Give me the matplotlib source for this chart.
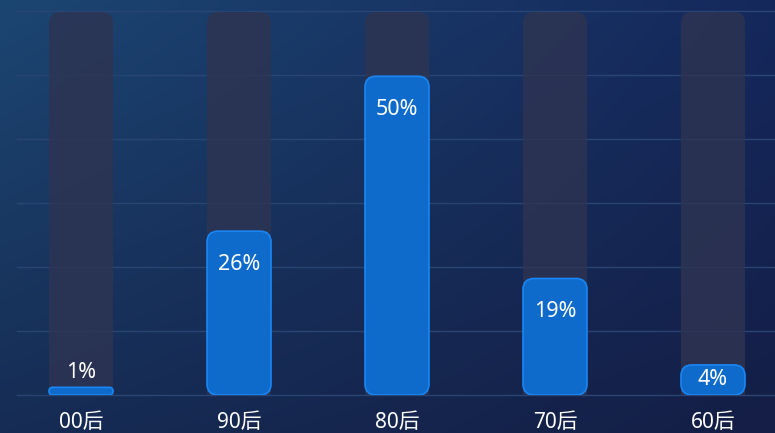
import numpy as np
import matplotlib
matplotlib.use("Agg")
import matplotlib.pyplot as plt
from matplotlib.patches import FancyBboxPatch

categories = ["00后", "90后", "80后", "70后", "60后"]
values = [1.2, 25.6, 49.8, 18.2, 4.7]
value_labels = ["1%", "26%", "50%", "19%", "4%"]
y_max = 60

plt.rcParams['font.family'] = ['Noto Sans', 'Noto Sans CJK SC', 'DejaVu Sans']

W, H = 775, 433
fig = plt.figure(figsize=(W / 100, H / 100), dpi=100)

# background gradient
bg = fig.add_axes([0, 0, 1, 1], zorder=-10)
tl = np.array([28, 70, 114]) / 255
tr = np.array([21, 40, 92]) / 255
bl = np.array([22, 44, 84]) / 255
br = np.array([20, 30, 70]) / 255
u = np.linspace(0, 1, 200)[None, :, None]
v = np.linspace(0, 1, 120)[:, None, None]
grad = (1 - v) * ((1 - u) * tl + u * tr) + v * ((1 - u) * bl + u * br)
bg.imshow(grad, aspect='auto', extent=[0, 1, 0, 1], interpolation='bilinear')
bg.axis('off')

# plot area
px_left, px_right = 2, 792
px_bottom, px_top = 395, 11
ax = fig.add_axes([px_left / W, (H - px_bottom) / H, (px_right - px_left) / W, (px_bottom - px_top) / H])
ax.set_xlim(-0.5, len(categories) - 0.5)
ax.set_ylim(0, y_max)
ax.patch.set_alpha(0)
for s in ax.spines.values():
    s.set_visible(False)
ax.set_xticks([])
ax.set_yticks([])

px_per_x = (px_right - px_left) / len(categories)
px_per_y = (px_bottom - px_top) / y_max
aspect = (1 / px_per_y) / (1 / px_per_x)

x_grid_start = -0.5 + (17 - px_left) / px_per_x
for gy in range(0, y_max + 1, 10):
    ax.plot([x_grid_start, len(categories)], [gy, gy], color='#294573', lw=1, zorder=1, clip_on=False)

bar_w = 64 / px_per_x
r_px = 11

def rbar(x, y0, h, fc, ec, lw, z, alpha=1.0):
    r = min(r_px, h * px_per_y / 2, 32) / px_per_x
    p = FancyBboxPatch((x - bar_w / 2, y0), bar_w, h,
                       boxstyle=f"round,pad=0,rounding_size={r}",
                       mutation_aspect=aspect, fc=fc, ec=ec, lw=lw, zorder=z, alpha=alpha)
    ax.add_patch(p)
    return p

for i, (c, val, lab) in enumerate(zip(categories, values, value_labels)):
    # background bar
    rbar(i, -3, y_max + 3 - 1 / px_per_y, '#2e3452', 'none', 0, 2, alpha=0.82)
    # value bar
    rbar(i, 0, val, '#0e6bcc', '#1a86f4', 1.2, 3)
    hpx = val * px_per_y
    top = val
    if hpx >= 60:
        ly = top - 33 / px_per_y
    elif hpx >= 24:
        ly = top / 2
    else:
        ly = top + 15 / px_per_y
    ax.text(i, ly, lab, color='white', fontsize=15.5, ha='center', va='center', zorder=5)
    ax.text(i, -27 / px_per_y, c, color='white', fontsize=15, ha='center', va='center',
            zorder=5, clip_on=False)

fig.savefig("out.png", dpi=100)
